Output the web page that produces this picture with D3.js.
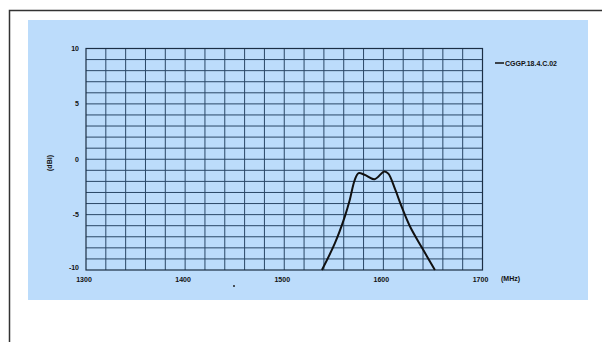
<!DOCTYPE html>
<html>
<head>
<meta charset="utf-8">
<script src="https://cdn.jsdelivr.net/npm/d3@7"></script>
<style>
  body { margin: 0; background: #fff; }
  svg { display: block; }
  text { font-family: "Liberation Sans", Arial, sans-serif; font-weight: bold; }
</style>
</head>
<body>
<div id="chart"></div>
<script>
// data
var freqs = [1538, 1551, 1561, 1566, 1571, 1575, 1581, 1591, 1601, 1605, 1612, 1618.5, 1627, 1639, 1652];
var gains = [-10, -7.6, -5.2, -3.7, -1.9, -1.25, -1.4, -1.8, -1.1, -1.3, -2.75, -4.3, -6.1, -8.0, -10];
var xTicks = [1300, 1400, 1500, 1600, 1700];
var yTicks = [-10, -5, 0, 5, 10];
var seriesName = "CGGP.18.4.C.02";

var width = 602;
var height = 342;

var plot = { left: 86, right: 482.5, top: 48.5, bottom: 270 };

var svg = d3.select("#chart").append("svg")
    .attr("width", width)
    .attr("height", height);

// outer frame
svg.append("rect")
    .attr("x", 9.5).attr("y", 10.5)
    .attr("width", 620).attr("height", 400)
    .attr("fill", "none")
    .attr("stroke", "#333")
    .attr("stroke-width", 1.5);

// light blue panel
svg.append("rect")
    .attr("x", 28).attr("y", 20)
    .attr("width", 560).attr("height", 280)
    .attr("fill", "#bcdcfb");

var x = d3.scaleLinear().domain([1300, 1700]).range([plot.left, plot.right]);
var y = d3.scaleLinear().domain([-10, 10]).range([plot.bottom, plot.top]);

var grid = svg.append("g");

grid.selectAll(".vline")
    .data(d3.range(1320, 1700, 20))
    .enter().append("line")
    .attr("x1", d => x(d)).attr("x2", d => x(d))
    .attr("y1", plot.top).attr("y2", plot.bottom)
    .attr("stroke", "#2a4766")
    .attr("stroke-width", 1);

grid.selectAll(".hline")
    .data(d3.range(-9, 10, 1))
    .enter().append("line")
    .attr("x1", plot.left).attr("x2", plot.right)
    .attr("y1", d => y(d)).attr("y2", d => y(d))
    .attr("stroke", "#2a4766")
    .attr("stroke-width", 1);

svg.append("rect")
    .attr("x", plot.left).attr("y", plot.top)
    .attr("width", plot.right - plot.left)
    .attr("height", plot.bottom - plot.top)
    .attr("fill", "none")
    .attr("stroke", "#1c2f45")
    .attr("stroke-width", 1.2);

// tick labels
svg.selectAll(".ylab")
    .data(yTicks)
    .enter().append("text")
    .attr("x", 79)
    .attr("y", d => y(d) + (d === -10 ? 0 : 2.5))
    .attr("text-anchor", "end")
    .attr("font-size", "7px")
    .attr("fill", "#111")
    .text(d => d);

svg.selectAll(".xlab")
    .data(xTicks)
    .enter().append("text")
    .attr("x", d => x(d) - 2)
    .attr("y", 282)
    .attr("text-anchor", "middle")
    .attr("font-size", "7px")
    .attr("fill", "#111")
    .text(d => d);

svg.append("text")
    .attr("transform", "translate(52,163) rotate(-90)")
    .attr("text-anchor", "middle")
    .attr("font-size", "7px")
    .attr("fill", "#111")
    .text("(dBi)");

svg.append("text")
    .attr("x", 501)
    .attr("y", 281)
    .attr("font-size", "7px")
    .attr("fill", "#111")
    .text("(MHz)");

svg.append("circle")
    .attr("cx", 234).attr("cy", 286).attr("r", 1)
    .attr("fill", "#222");

// curve
var line = d3.line()
    .x((d, i) => x(freqs[i]))
    .y(d => y(d))
    .curve(d3.curveCatmullRom);

svg.append("path")
    .datum(gains)
    .attr("d", line)
    .attr("fill", "none")
    .attr("stroke", "#111")
    .attr("stroke-width", 2);

// legend
svg.append("line")
    .attr("x1", 495).attr("x2", 504)
    .attr("y1", 63).attr("y2", 63)
    .attr("stroke", "#111")
    .attr("stroke-width", 1.5);

svg.append("text")
    .attr("x", 505)
    .attr("y", 65.5)
    .attr("font-size", "7px")
    .attr("fill", "#111")
    .text(seriesName);
</script>
</body>
</html>
